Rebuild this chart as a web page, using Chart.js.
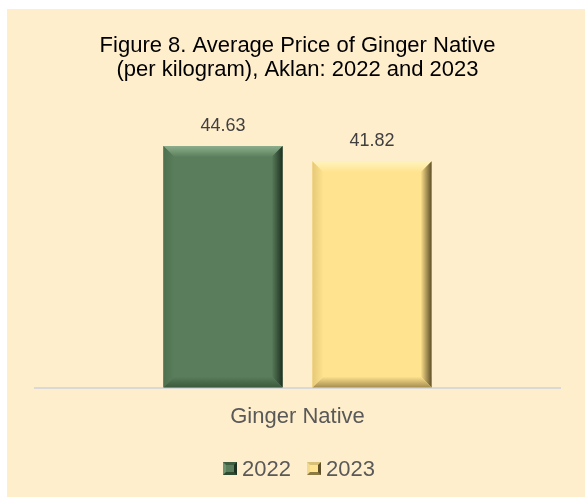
<!DOCTYPE html>
<html>
<head>
<meta charset="utf-8">
<script src="https://cdn.jsdelivr.net/npm/chart.js@4.4.1/dist/chart.umd.min.js"></script>
<style>
  html, body { margin: 0; padding: 0; background: #ffffff; width: 585px; height: 497px; overflow: hidden; }
  #frame { position: absolute; left: 7px; top: 9px; width: 578px; height: 488px; background: #FFEECC; }
  #c { position: absolute; left: 0; top: 0; }
  #legend { position: absolute; top: 447px; left: 0; width: 578px; text-align: center; font-family: "Liberation Sans", Arial, sans-serif; font-size: 22px; color: #595959; line-height: 26px; padding-left: 6px; box-sizing: border-box; }
  .item { display: inline-block; margin: 0 8px; }
  .box { display: inline-block; width: 8px; height: 7px; margin-right: 5px; vertical-align: 1px; border-style: solid; border-width: 3px; }
</style>
</head>
<body>
<div id="frame">
  <canvas id="c" width="578" height="488"></canvas>
  <div id="legend"></div>
</div>
<script>
const categories = ['Ginger Native'];
const seriesNames = ['2022', '2023'];
const values2022 = [44.63];
const values2023 = [41.82];
const titleLines = ['Figure 8. Average Price of Ginger Native', '(per kilogram), Aklan: 2022 and 2023'];

const FONT = '"Liberation Sans", Arial, sans-serif';
const palettes = [
  { base: '#5A7E5B', light: '#8DAE8C', dark: '#1E3020', bottom: '#3B583C', left: '#4D704E' },
  { base: '#FFE38E', light: '#FFF4BE', dark: '#5E4F28', bottom: '#A48C4E', left: '#E6C878' }
];

const bevelPlugin = {
  id: 'bevel',
  afterDatasetsDraw(chart) {
    const ctx = chart.ctx;
    chart.data.datasets.forEach((ds, di) => {
      const meta = chart.getDatasetMeta(di);
      const p = palettes[di];
      meta.data.forEach((bar, idx) => {
        const x0 = bar.x - bar.width / 2, x1 = bar.x + bar.width / 2;
        const y0 = bar.y, y1 = bar.base;
        const b = 11;
        ctx.save();
        let g = ctx.createLinearGradient(0, y0, 0, y0 + b);
        g.addColorStop(0, p.light); g.addColorStop(1, p.base);
        ctx.fillStyle = g;
        ctx.beginPath(); ctx.moveTo(x0, y0); ctx.lineTo(x1, y0); ctx.lineTo(x1 - b, y0 + b); ctx.lineTo(x0 + b, y0 + b); ctx.closePath(); ctx.fill();
        g = ctx.createLinearGradient(x1 - b, 0, x1, 0);
        g.addColorStop(0, p.base); g.addColorStop(1, p.dark);
        ctx.fillStyle = g;
        ctx.beginPath(); ctx.moveTo(x1, y0); ctx.lineTo(x1, y1); ctx.lineTo(x1 - b, y1 - b); ctx.lineTo(x1 - b, y0 + b); ctx.closePath(); ctx.fill();
        g = ctx.createLinearGradient(0, y1 - b, 0, y1);
        g.addColorStop(0, p.base); g.addColorStop(1, p.bottom);
        ctx.fillStyle = g;
        ctx.beginPath(); ctx.moveTo(x0, y1); ctx.lineTo(x1, y1); ctx.lineTo(x1 - b, y1 - b); ctx.lineTo(x0 + b, y1 - b); ctx.closePath(); ctx.fill();
        g = ctx.createLinearGradient(x0, 0, x0 + b, 0);
        g.addColorStop(0, p.left); g.addColorStop(1, p.base);
        ctx.fillStyle = g;
        ctx.beginPath(); ctx.moveTo(x0, y0); ctx.lineTo(x0, y1); ctx.lineTo(x0 + b, y1 - b); ctx.lineTo(x0 + b, y0 + b); ctx.closePath(); ctx.fill();
        ctx.restore();
        ctx.save();
        ctx.font = '18px ' + FONT;
        ctx.fillStyle = '#404040';
        ctx.textAlign = 'center';
        ctx.textBaseline = 'alphabetic';
        ctx.fillText(ds.data[idx].toFixed(2), bar.x, y0 - 15);
        ctx.restore();
      });
    });
  }
};

const chart = new Chart(document.getElementById('c'), {
  type: 'bar',
  data: {
    labels: categories,
    datasets: [
      { label: seriesNames[0], data: values2022, backgroundColor: palettes[0].base, borderWidth: 0 },
      { label: seriesNames[1], data: values2023, backgroundColor: palettes[1].base, borderWidth: 0 }
    ]
  },
  options: {
    responsive: false,
    animation: false,
    devicePixelRatio: 1,
    categoryPercentage: 0.5676,
    barPercentage: 0.8,
    layout: { padding: { top: 0, left: 28, right: 25, bottom: 59 } },
    plugins: {
      legend: { display: false },
      tooltip: { enabled: false },
      title: {
        display: true,
        text: titleLines,
        color: '#000000',
        font: { family: FONT, size: 22, weight: 'normal', lineHeight: 1.1 },
        padding: { top: 25, bottom: 34.6 }
      }
    },
    scales: {
      x: {
        grid: { display: false },
        border: { display: true, color: '#D9D9D9', width: 2 },
        ticks: { color: '#595959', font: { family: FONT, size: 22 }, padding: 8 }
      },
      y: { display: false, min: 0, max: 50 }
    }
  },
  plugins: [bevelPlugin]
});

const legend = document.getElementById('legend');
const legendBorders = [
  ['#3F5E40', '#1E3020', '#2E4A30', '#6F9470'],
  ['#D8C079', '#5E4F28', '#8C7A45', '#F2DA90']
];
seriesNames.forEach((name, i) => {
  const item = document.createElement('span');
  item.className = 'item';
  const box = document.createElement('span');
  box.className = 'box';
  const bc = legendBorders[i];
  box.style.background = palettes[i].base;
  box.style.borderColor = bc[0] + ' ' + bc[1] + ' ' + bc[2] + ' ' + bc[3];
  item.appendChild(box);
  item.appendChild(document.createTextNode(name));
  legend.appendChild(item);
});
</script>
</body>
</html>
